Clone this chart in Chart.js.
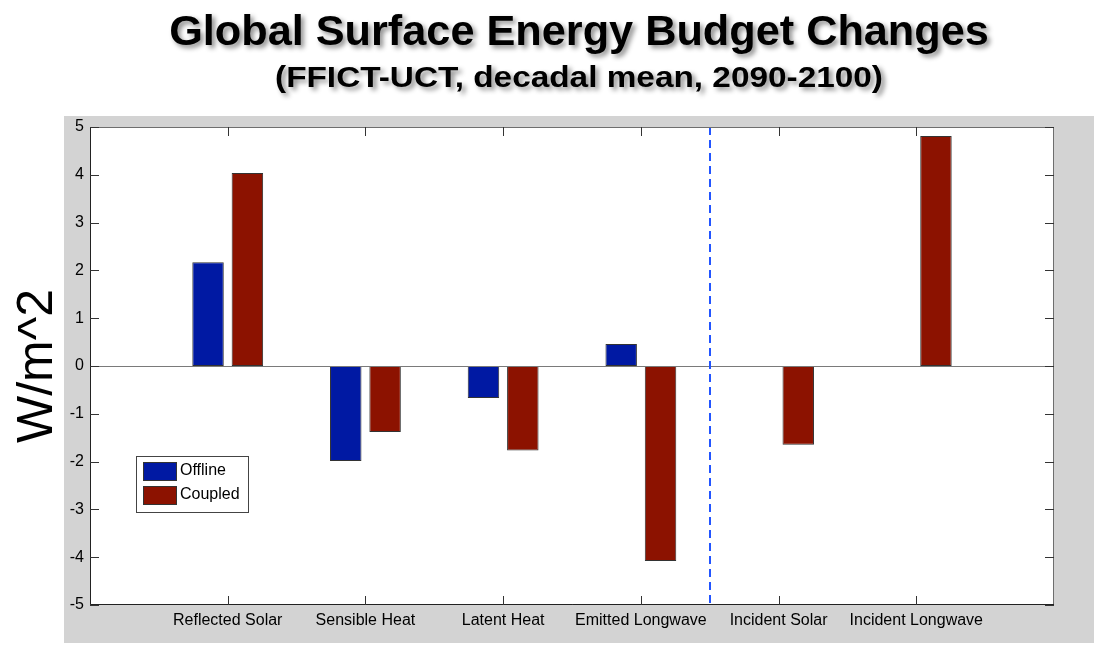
<!DOCTYPE html>
<html>
<head>
<meta charset="utf-8">
<script src="https://cdn.jsdelivr.net/npm/chart.js@4/dist/chart.umd.min.js"></script>
<style>
  html, body { margin: 0; padding: 0; background: #fff; }
  #wrap { position: relative; width: 1094px; height: 652px; }
  #budgetChart { position: absolute; left: 0; top: 0; }
  .heading {
    position: absolute; left: 64px; right: 0; text-align: center;
    font-family: 'Liberation Sans', Arial, sans-serif; font-weight: bold; color: #000;
    text-shadow: 3px 3px 5px rgba(0, 0, 0, 0.45);
    white-space: nowrap; transform-origin: 50% 50%;
  }
  #title { top: 7px; font-size: 42px; transform: scaleX(1.03); }
  #subtitle { top: 61px; font-size: 29px; transform: scaleX(1.15); }
</style>
</head>
<body>
<div id="wrap">
  <canvas id="budgetChart" width="1094" height="652"></canvas>
  <div id="title" class="heading">Global Surface Energy Budget Changes</div>
  <div id="subtitle" class="heading">(FFICT-UCT, decadal mean, 2090-2100)</div>
</div>
<script>
const categories = ['Reflected Solar', 'Sensible Heat', 'Latent Heat', 'Emitted Longwave', 'Incident Solar', 'Incident Longwave'];
const offline = [2.17, -1.99, -0.67, 0.46, null, null];
const coupled = [4.04, -1.38, -1.77, -4.08, -1.65, 4.81];
const seriesNames = ['Offline', 'Coupled'];
const seriesColors = ['#0019a3', '#8c1200'];
const yRange = [-5, 5];
const yUnit = 'W/m^2';
// dashed divider sits between these two categories
const dividerAfter = 'Emitted Longwave';

const FONT = "'Liberation Sans', Arial, Helvetica, sans-serif";
const PANEL = '#d3d3d3';

// empty slots on both ends give the axis its 0..7 span
const labels = ['', ...categories, ''];
const pad = arr => [null, ...arr, null];

const framePlugin = {
  id: 'frame',
  beforeDraw(chart) {
    const { ctx } = chart;
    ctx.save();
    ctx.fillStyle = PANEL;
    ctx.fillRect(64, 116, chart.width - 64, 527);
    const a = chart.chartArea;
    ctx.fillStyle = '#fff';
    ctx.fillRect(a.left, a.top, a.right - a.left, a.bottom - a.top);

    // axis unit, rotated
    ctx.translate(52, (a.top + a.bottom) / 2);
    ctx.rotate(-Math.PI / 2);
    ctx.font = `50px ${FONT}`;
    ctx.fillStyle = '#000';
    ctx.textAlign = 'center';
    ctx.textBaseline = 'alphabetic';
    ctx.fillText(yUnit, 0, 0);
    ctx.restore();
  },
  afterDatasetsDraw(chart) {
    const { ctx, scales } = chart;
    const a = chart.chartArea;
    const x = scales.x;
    const y = scales.y;
    ctx.save();

    // baseline at zero
    const y0 = Math.round(y.getPixelForValue(0)) + 0.5;
    ctx.strokeStyle = '#7a7a7a';
    ctx.lineWidth = 1;
    ctx.beginPath();
    ctx.moveTo(a.left, y0);
    ctx.lineTo(a.right, y0);
    ctx.stroke();

    // dashed divider
    const i = labels.indexOf(dividerAfter);
    const xd = Math.round((x.getPixelForValue(i) + x.getPixelForValue(i + 1)) / 2);
    ctx.strokeStyle = '#2255ff';
    ctx.lineWidth = 2;
    ctx.setLineDash([8, 5]);
    ctx.beginPath();
    ctx.moveTo(xd, a.top);
    ctx.lineTo(xd, a.bottom);
    ctx.stroke();
    ctx.setLineDash([]);

    // box
    ctx.lineWidth = 1;
    ctx.strokeStyle = '#6e6e6e';
    ctx.strokeRect(a.left + 0.5, a.top + 0.5, a.right - a.left - 1, a.bottom - a.top - 1);
    ctx.strokeStyle = '#222';
    ctx.beginPath();
    ctx.moveTo(a.left + 0.5, a.top);
    ctx.lineTo(a.left + 0.5, a.bottom - 0.5);
    ctx.lineTo(a.right, a.bottom - 0.5);
    ctx.stroke();

    // inward tick marks
    const tl = 9;
    ctx.strokeStyle = '#333';
    ctx.beginPath();
    for (let v = yRange[0]; v <= yRange[1]; v++) {
      const py = Math.round(y.getPixelForValue(v)) + 0.5;
      ctx.moveTo(a.left, py);
      ctx.lineTo(a.left + tl, py);
      ctx.moveTo(a.right, py);
      ctx.lineTo(a.right - tl, py);
    }
    categories.forEach((c, k) => {
      const px = Math.round(x.getPixelForValue(k + 1)) + 0.5;
      ctx.moveTo(px, a.top);
      ctx.lineTo(px, a.top + tl);
      ctx.moveTo(px, a.bottom);
      ctx.lineTo(px, a.bottom - tl);
    });
    ctx.stroke();

    // legend box
    const lx = a.left + 46;
    const ly = a.top + 329;
    ctx.fillStyle = '#fff';
    ctx.fillRect(lx, ly, 112, 56);
    ctx.strokeStyle = '#444';
    ctx.strokeRect(lx + 0.5, ly + 0.5, 112, 56);
    ctx.font = `16px ${FONT}`;
    ctx.textAlign = 'left';
    ctx.textBaseline = 'middle';
    seriesNames.forEach((name, k) => {
      const sy = ly + 6 + k * 24;
      ctx.fillStyle = seriesColors[k];
      ctx.fillRect(lx + 7, sy, 34, 19);
      ctx.strokeStyle = '#333';
      ctx.strokeRect(lx + 7.5, sy + 0.5, 33, 18);
      ctx.fillStyle = '#000';
      ctx.fillText(name, lx + 44, sy + 9);
    });
    ctx.restore();
  },
};

function renderChart() {
  const ctx = document.getElementById('budgetChart').getContext('2d');
  new Chart(ctx, {
    type: 'bar',
    data: {
      labels,
      datasets: [offline, coupled].map((vals, k) => ({
        label: seriesNames[k],
        data: pad(vals),
        backgroundColor: seriesColors[k],
        borderColor: '#333',
        borderWidth: 1,
        borderSkipped: false,
        categoryPercentage: 0.5714,
        barPercentage: 0.8,
      })),
    },
    options: {
      responsive: false,
      animation: false,
      layout: { padding: { top: 127, right: 40, bottom: 0, left: 0 } },
      plugins: { legend: { display: false }, tooltip: { enabled: false } },
      scales: {
        x: {
          offset: false,
          grid: { display: false, drawTicks: false },
          border: { display: false },
          ticks: { color: '#000', font: { family: FONT, size: 16 }, padding: 6, maxRotation: 0, autoSkip: false },
          afterFit(scale) { scale.height = 47; },
        },
        y: {
          min: yRange[0],
          max: yRange[1],
          grid: { display: false, drawTicks: false },
          border: { display: false },
          ticks: { stepSize: 1, color: '#000', font: { family: FONT, size: 16 }, padding: 6 },
          afterFit(scale) { scale.width = 90; },
        },
      },
    },
    plugins: [framePlugin],
  });
}

renderChart();
</script>
</body>
</html>
